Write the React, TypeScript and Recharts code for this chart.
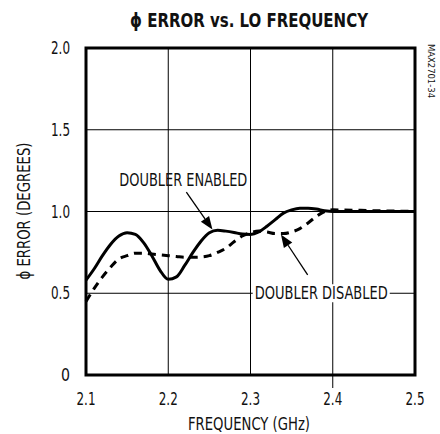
import { LineChart, Line, XAxis, YAxis, CartesianGrid, ReferenceArea, ReferenceLine, ReferenceDot } from 'recharts'

const freqs = [2.1, 2.11, 2.12, 2.13, 2.14, 2.15, 2.16, 2.17, 2.18, 2.19, 2.2, 2.21, 2.22, 2.23, 2.24, 2.25, 2.26, 2.27, 2.28, 2.29, 2.3, 2.31, 2.32, 2.33, 2.34, 2.35, 2.36, 2.37, 2.38, 2.39, 2.4, 2.45, 2.5]
const enabled = [0.58, 0.65, 0.73, 0.8, 0.85, 0.87, 0.86, 0.81, 0.73, 0.64, 0.585, 0.6, 0.67, 0.75, 0.82, 0.87, 0.885, 0.88, 0.872, 0.862, 0.86, 0.875, 0.91, 0.95, 0.99, 1.01, 1.02, 1.02, 1.015, 1.005, 1.0, 1.0, 1.0]
const disabled = [0.45, 0.53, 0.6, 0.66, 0.71, 0.73, 0.745, 0.745, 0.74, 0.735, 0.73, 0.725, 0.72, 0.72, 0.722, 0.73, 0.75, 0.775, 0.815, 0.85, 0.87, 0.88, 0.875, 0.865, 0.865, 0.875, 0.895, 0.93, 0.97, 1.0, 1.01, 1.005, 1.0]
const xTicks = [2.1, 2.2, 2.3, 2.4, 2.5]
const yTicks = [0, 0.5, 1.0, 1.5, 2.0]

const data = freqs.map((f, i) => ({ f, enabled: enabled[i], disabled: disabled[i] }))

const FONT = '"DejaVu Sans Condensed", "Liberation Sans", Arial, sans-serif'
const INK = '#111'

// narrow text: squeeze glyphs to the width measured on the reference
const Narrow = ({ x, y, w, size = 16, anchor = 'middle', bold = false, rotate, children }: any) => (
  <text
    x={x}
    y={y}
    textAnchor={anchor}
    fontFamily={FONT}
    fontSize={size}
    fontWeight={bold ? 'bold' : 'normal'}
    fill={INK}
    textLength={w}
    lengthAdjust="spacingAndGlyphs"
    transform={rotate ? `rotate(${rotate} ${x} ${y})` : undefined}
  >
    {children}
  </text>
)

const XTick = (props: any) => {
  const { x, y, payload } = props
  return (
    <g>
      {/* the 2.4 grid line pokes out under the frame in the reference */}
      {payload.value === 2.4 && <line x1={x} y1={y} x2={x} y2={y + 13} stroke="#000" strokeWidth={1} />}
      <Narrow x={x} y={y + 30} w={19} size={17}>{payload.value.toFixed(1)}</Narrow>
    </g>
  )
}

const YTick = (props: any) => {
  const { x, y, payload } = props
  const label = payload.value === 0 ? '0' : payload.value.toFixed(1)
  return <Narrow x={x} y={y + 6} w={label.length === 1 ? 9 : 19} size={17} anchor="end">{label}</Narrow>
}

// line with an arrowhead at the second point
const Arrow = (props: any) => {
  const { x1, y1, x2, y2 } = props
  const ang = Math.atan2(y2 - y1, x2 - x1)
  const len = 13
  const w = 5
  const bx = x2 - len * Math.cos(ang)
  const by = y2 - len * Math.sin(ang)
  const px = -Math.sin(ang) * w
  const py = Math.cos(ang) * w
  return (
    <g>
      <line x1={x1} y1={y1} x2={bx} y2={by} stroke="#000" strokeWidth={1.3} />
      <polygon points={`${x2},${y2} ${bx + px},${by + py} ${bx - px},${by - py}`} fill="#000" />
    </g>
  )
}

const Note = (text: string, w: number, bg: boolean) => (props: any) => {
  const { cx, cy } = props
  return (
    <g>
      {bg && <rect x={cx - w / 2 - 2} y={cy - 9} width={w + 4} height={18} fill="#fff" />}
      <Narrow x={cx} y={cy + 6} w={w} size={17}>{text}</Narrow>
    </g>
  )
}

export default function App() {
  return (
    <div style={{ position: 'relative', width: 440, height: 434, background: '#fff' }}>
      <style>{'body{margin:0}'}</style>
      <LineChart width={440} height={434} data={data} margin={{ top: 48, right: 25, bottom: 0, left: 0 }}>
        <CartesianGrid stroke="#000" strokeWidth={1} />
        <XAxis
          dataKey="f"
          type="number"
          domain={[2.1, 2.5]}
          ticks={xTicks}
          tickLine={false}
          axisLine={false}
          tickSize={0}
          tickMargin={0}
          height={59}
          tick={XTick}
        />
        <YAxis
          type="number"
          domain={[0, 2]}
          ticks={yTicks}
          tickLine={false}
          axisLine={false}
          tickSize={0}
          tickMargin={16}
          width={86}
          tick={YTick}
        />
        <ReferenceLine segment={[{ x: 2.222, y: 1.119 }, { x: 2.2537, y: 0.89 }]} shape={Arrow} />
        <ReferenceLine segment={[{ x: 2.3695, y: 0.612 }, { x: 2.337, y: 0.86 }]} shape={Arrow} />
        <Line dataKey="disabled" type="monotone" stroke="#000" strokeWidth={3} strokeDasharray="8 6" dot={false} isAnimationActive={false} />
        <Line dataKey="enabled" type="monotone" stroke="#000" strokeWidth={3} dot={false} isAnimationActive={false} />
        <ReferenceDot x={2.2183} y={1.193} r={0} shape={Note('DOUBLER ENABLED', 128, false)} />
        <ReferenceDot x={2.386} y={0.5} r={0} shape={Note('DOUBLER DISABLED', 133, true)} />
        <ReferenceArea x1={2.1} x2={2.5} y1={0} y2={2} fill="none" stroke="#000" strokeWidth={3} />
      </LineChart>
      <svg width={440} height={434} style={{ position: 'absolute', left: 0, top: 0, pointerEvents: 'none' }}>
        <Narrow x={249} y={27} w={238} size={19} bold>ϕ ERROR vs. LO FREQUENCY</Narrow>
        <Narrow x={249} y={430} w={122} size={17}>FREQUENCY (GHz)</Narrow>
        <Narrow x={30} y={211} w={137} size={17} rotate={-90}>ϕ ERROR (DEGREES)</Narrow>
        <Narrow x={428} y={71} w={54} size={9} rotate={90}>MAX2701-34</Narrow>
      </svg>
    </div>
  )
}
